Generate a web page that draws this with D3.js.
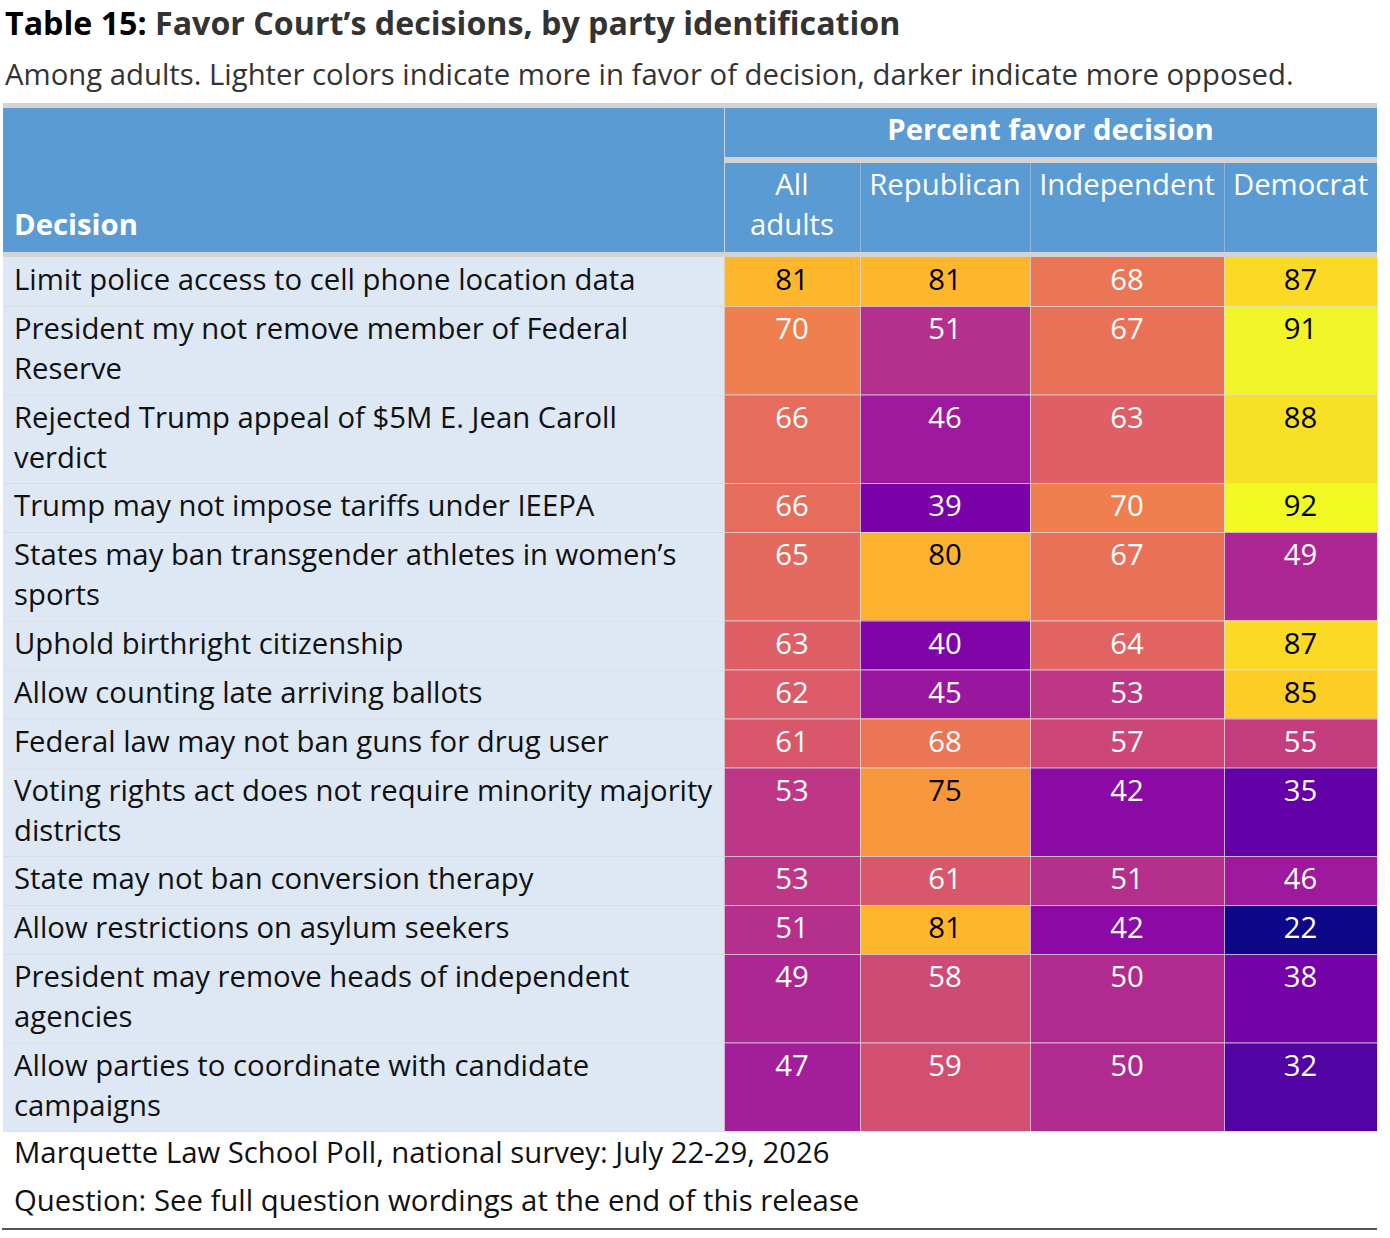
<!DOCTYPE html>
<html><head><meta charset="utf-8">
<script src="https://cdn.jsdelivr.net/npm/d3@7"></script>
<style>
html,body{margin:0;padding:0;background:#fff;}
svg text{font-family:"Open Sans",sans-serif;}
</style></head>
<body><svg id="c" width="1390" height="1238"></svg>
<script>
const decisions = [
  "Limit police access to cell phone location data",
  "President my not remove member of Federal Reserve",
  "Rejected Trump appeal of $5M E. Jean Caroll verdict",
  "Trump may not impose tariffs under IEEPA",
  "States may ban transgender athletes in women\u2019s sports",
  "Uphold birthright citizenship",
  "Allow counting late arriving ballots",
  "Federal law may not ban guns for drug user",
  "Voting rights act does not require minority majority districts",
  "State may not ban conversion therapy",
  "Allow restrictions on asylum seekers",
  "President may remove heads of independent agencies",
  "Allow parties to coordinate with candidate campaigns"
];
const groups = ["All adults", "Republican", "Independent", "Democrat"];
const allAdults  = [81,70,66,66,65,63,62,61,53,53,51,49,47];
const republican = [81,51,46,39,80,40,45,68,75,61,81,58,59];
const independent= [68,67,63,70,67,64,53,57,42,51,42,50,50];
const democrat   = [87,91,88,92,49,87,85,55,35,46,22,38,32];
const series = [allAdults, republican, independent, democrat];

const title1 = "Table 15:";
const title2 = " Favor Court\u2019s decisions, by party identification";
const subtitle = "Among adults. Lighter colors indicate more in favor of decision, darker indicate more opposed.";
const spanner = "Percent favor decision";
const stubHead = "Decision";
const source1 = "Marquette Law School Poll, national survey: July 22-29, 2026";
const source2 = "Question: See full question wordings at the end of this release";

const svg = d3.select("#c");
const FS = 29.3, LH = 40;
const left = 3, right = 1377;
const colEdges = [724, 860, 1030, 1224, 1377];
const color = d3.scaleSequential(d3.interpolatePlasma).domain([22, 92]);

// title
const t = svg.append("text").attr("x", 5).attr("y", 35).attr("font-size", 32.2).attr("font-weight", 700);
t.append("tspan").attr("fill", "#000").text(title1);
t.append("tspan").attr("fill", "#333").text(title2);
svg.append("text").attr("x", 5).attr("y", 85).attr("font-size", 29.3).attr("fill", "#333").text(subtitle);

// wrap helper
const meas = svg.append("text").attr("font-size", FS).attr("visibility","hidden");
function wrap(str, maxW) {
  const words = str.split(" "); const lines = []; let cur = "";
  for (const w of words) {
    const test = cur ? cur + " " + w : w;
    meas.text(test);
    if (meas.node().getComputedTextLength() > maxW && cur) { lines.push(cur); cur = w; }
    else cur = test;
  }
  lines.push(cur); return lines;
}
const wrapped = decisions.map(d => wrap(d, 701));
meas.remove();

// row geometry
const bodyTop = 257;
const rowH = wrapped.map(l => 9 + l.length * LH - (l.length-1)*0.5);
const rowY = []; let yy = bodyTop;
rowH.forEach((h,i) => { rowY.push(yy); yy += h; });
const bodyBottom = yy;

// header
svg.append("rect").attr("x", left).attr("y", 103).attr("width", right-left).attr("height", 5).attr("fill", "#d3d3d3");
svg.append("rect").attr("x", left).attr("y", 108).attr("width", right-left).attr("height", 144).attr("fill", "#5b9bd3");
svg.append("rect").attr("x", colEdges[0]).attr("y", 157).attr("width", right-colEdges[0]).attr("height", 6).attr("fill", "#d3d3d3");
svg.append("rect").attr("x", left).attr("y", 252).attr("width", right-left).attr("height", 5).attr("fill", "#d3d3d3");
svg.append("line").attr("x1", colEdges[0]+0.5).attr("x2", colEdges[0]+0.5).attr("y1", 108).attr("y2", 252).attr("stroke", "#c8d3de").attr("stroke-width", 1);
[1,2,3].forEach(i => svg.append("line").attr("x1", colEdges[i]+0.5).attr("x2", colEdges[i]+0.5).attr("y1", 163).attr("y2", 252).attr("stroke", "#8cb6e0").attr("stroke-width", 1));

svg.append("text").attr("x", 14).attr("y", 235).attr("font-size", FS).attr("font-weight", 700).attr("fill", "#fff").text(stubHead);
svg.append("text").attr("x", (colEdges[0]+right)/2).attr("y", 140).attr("text-anchor", "middle").attr("font-size", FS).attr("font-weight", 700).attr("fill", "#fff").text(spanner);

groups.forEach((g,i) => {
  const cx = (colEdges[i]+colEdges[i+1])/2;
  const parts = g === "All adults" ? ["All","adults"] : [g];
  const tx = svg.append("text").attr("text-anchor","middle").attr("font-size", FS).attr("fill","#fff");
  parts.forEach((p,j) => tx.append("tspan").attr("x", cx).attr("y", 195 + j*LH).text(p));
});

// body
const rows = svg.append("g");
wrapped.forEach((lines, r) => {
  const y0 = rowY[r], h = rowH[r];
  rows.append("rect").attr("x", left).attr("y", y0).attr("width", colEdges[0]-left).attr("height", h).attr("fill", "#dde8f4");
  const tx = rows.append("text").attr("font-size", FS).attr("fill", "#111");
  lines.forEach((l,j) => tx.append("tspan").attr("x", 14).attr("y", y0 + 33 + j*LH).text(l));
  series.forEach((s, c) => {
    const v = s[r];
    const fill = color(v);
    rows.append("rect").attr("x", colEdges[c]).attr("y", y0).attr("width", colEdges[c+1]-colEdges[c]).attr("height", h).attr("fill", fill);
    const rgb = d3.rgb(fill);
    const lin = x => { x/=255; return x <= 0.03928 ? x/12.92 : Math.pow((x+0.055)/1.055, 2.4); };
    const L = 0.2126*lin(rgb.r)+0.7152*lin(rgb.g)+0.0722*lin(rgb.b);
    rows.append("text").attr("x", (colEdges[c]+colEdges[c+1])/2).attr("y", y0 + 33)
      .attr("text-anchor","middle").attr("font-size", FS).attr("fill", L > 0.4 ? "#000" : "#fff").text(v);
  });
});
// grid lines
const grid = svg.append("g").attr("stroke", "#d9d9d9").attr("stroke-width", 1).attr("stroke-opacity", 0.8);
rowY.slice(1).forEach(y => grid.append("line").attr("x1", left).attr("x2", right).attr("y1", y+0.5).attr("y2", y+0.5));
grid.append("line").attr("x1", left).attr("x2", right).attr("y1", bodyBottom+0.5).attr("y2", bodyBottom+0.5);
colEdges.forEach(x => grid.append("line").attr("x1", x+0.5).attr("x2", x+0.5).attr("y1", bodyTop).attr("y2", bodyBottom));

// footer
svg.append("text").attr("x", 14).attr("y", bodyBottom + 32).attr("font-size", FS).attr("fill", "#111").text(source1);
svg.append("text").attr("x", 14).attr("y", bodyBottom + 80).attr("font-size", FS).attr("fill", "#111").text(source2);
svg.append("rect").attr("x", 2).attr("y", bodyBottom + 97).attr("width", right-2).attr("height", 2).attr("fill", "#555");
</script></body></html>
